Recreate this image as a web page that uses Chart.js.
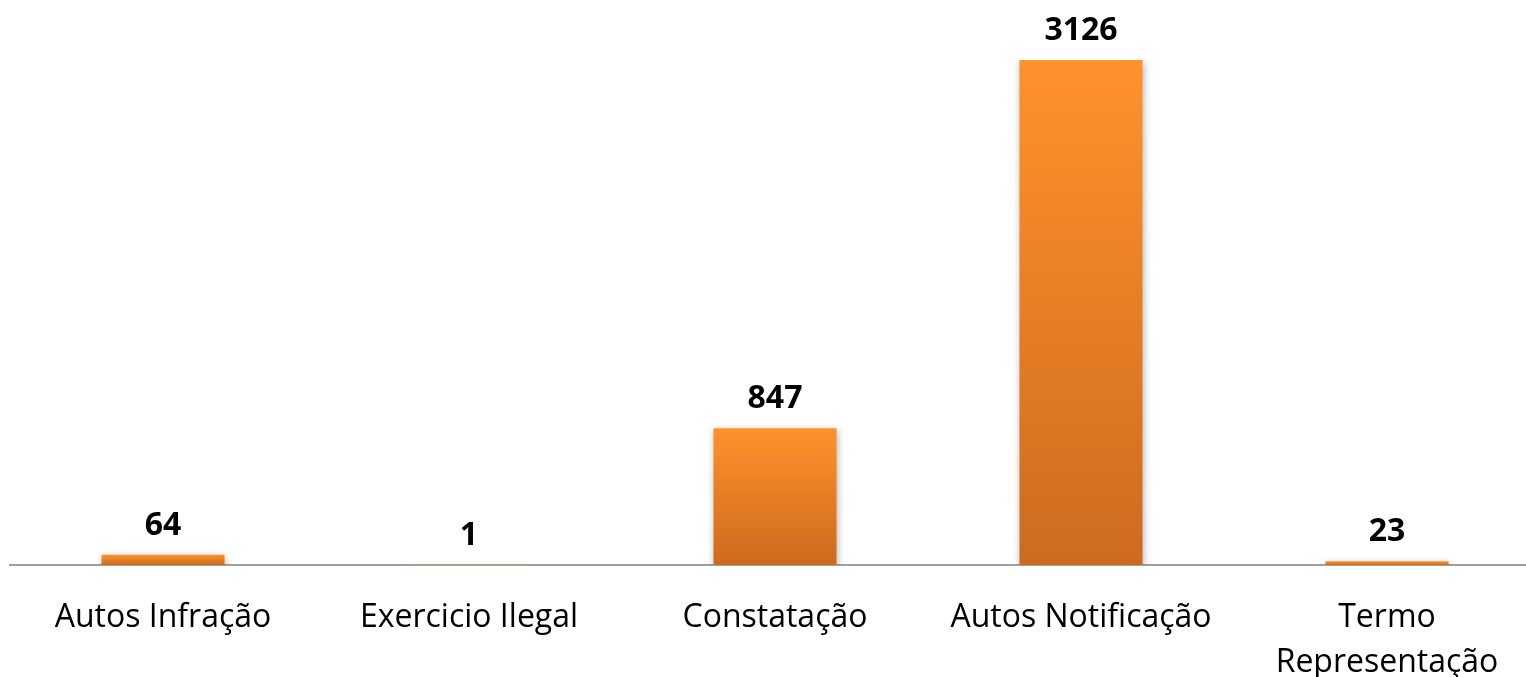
<!DOCTYPE html>
<html lang="pt">
<head>
    <meta charset="UTF-8">
    <title>Autos</title>
    <script src="https://cdn.jsdelivr.net/npm/chart.js"></script>
    <style>
        html, body {
            margin: 0;
            padding: 0;
            background: #ffffff;
            overflow: hidden;
        }
        #wrap {
            width: 1540px;
            height: 677px;
        }
    </style>
</head>
<body>
    <div id="wrap">
        <canvas id="chart1"></canvas>
    </div>
    <script>
        const categories = ['Autos Infração', 'Exercicio Ilegal', 'Constatação', 'Autos Notificação', ['Termo', 'Representação']];
        const values = [64, 1, 847, 3126, 23];

        // gradient from top of each bar down to the baseline
        function barGradient(ctx) {
            const chart = ctx.chart;
            const y = chart.scales.y;
            if (!y || !chart.chartArea || ctx.raw === undefined) {
                return '#f28a2a';
            }
            const top = y.getPixelForValue(ctx.raw);
            const base = y.getPixelForValue(0);
            const g = chart.ctx.createLinearGradient(0, top, 0, Math.max(base, top + 1));
            g.addColorStop(0, '#ff922b');
            g.addColorStop(1, '#cd6a1e');
            return g;
        }

        const barShadow = {
            id: 'barShadow',
            beforeDatasetsDraw(chart) {
                const c = chart.ctx;
                c.save();
                c.shadowColor = 'rgba(0,0,0,0.28)';
                c.shadowBlur = 7;
                c.shadowOffsetX = 1;
                c.shadowOffsetY = 2;
            },
            afterDatasetsDraw(chart) {
                chart.ctx.restore();
            }
        };

        const valueLabels = {
            id: 'valueLabels',
            afterDraw(chart) {
                const c = chart.ctx;
                const meta = chart.getDatasetMeta(0);
                c.save();
                c.font = 'bold 32px "Open Sans"';
                c.fillStyle = '#000000';
                c.textAlign = 'center';
                c.textBaseline = 'middle';
                meta.data.forEach(function (bar, i) {
                    c.fillText(String(values[i]), bar.x, bar.y - 29);
                });
                c.restore();
            }
        };

        new Chart(document.getElementById('chart1'), {
            type: 'bar',
            data: {
                labels: categories,
                datasets: [{
                    data: values,
                    backgroundColor: barGradient,
                    borderWidth: 0,
                    barPercentage: 0.402,
                    categoryPercentage: 1.0
                }]
            },
            options: {
                responsive: true,
                maintainAspectRatio: false,
                animation: false,
                layout: {
                    padding: { top: 60, left: 10, right: 0, bottom: 0 }
                },
                plugins: {
                    legend: { display: false },
                    tooltip: { enabled: false }
                },
                scales: {
                    x: {
                        grid: { display: false },
                        border: { display: true, color: '#a0a0a0', width: 2 },
                        ticks: {
                            color: '#000000',
                            padding: 22,
                            maxRotation: 0,
                            autoSkip: false,
                            font: { family: '"Open Sans"', size: 32, lineHeight: 1.42 }
                        },
                        afterFit(scale) {
                            scale.height = 112;
                        }
                    },
                    y: {
                        display: false,
                        min: 0,
                        max: 3126
                    }
                }
            },
            plugins: [barShadow, valueLabels]
        });
    </script>
</body>
</html>
